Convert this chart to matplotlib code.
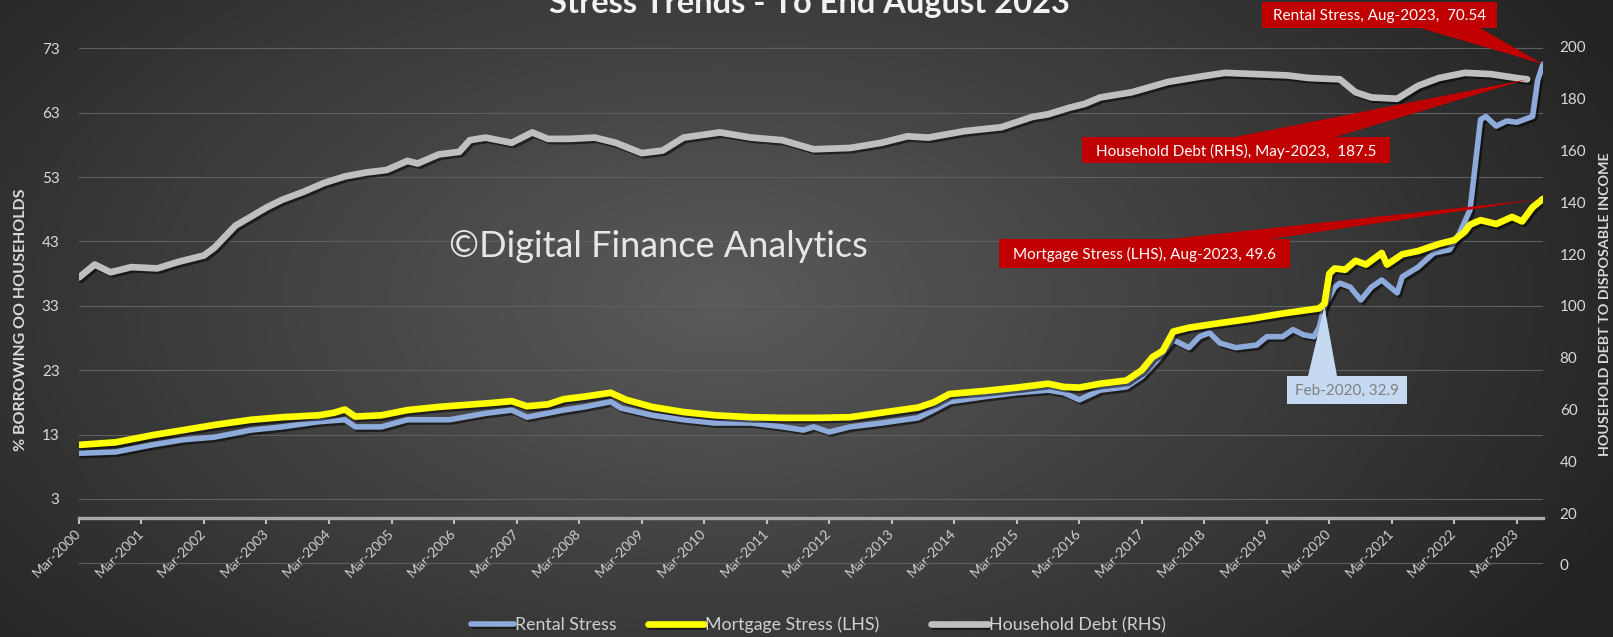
import numpy as np
import pandas as pd
import matplotlib
matplotlib.use("Agg")
import matplotlib.pyplot as plt
import matplotlib.dates as mdates
import matplotlib.patheffects as pe
from matplotlib.patches import Polygon, Rectangle
from matplotlib.lines import Line2D

# ---------------- data ----------------
household_dates = ['2000-03','2000-06','2000-09','2001-01','2001-06','2001-10','2002-03','2002-05','2002-09','2002-12',
                   '2003-03','2003-06','2003-10','2004-02','2004-06','2004-10','2005-02','2005-06','2005-08','2005-12',
                   '2006-04','2006-06','2006-09','2007-02','2007-06','2007-09','2008-01','2008-06','2008-10','2009-03',
                   '2009-07','2009-11','2010-06','2010-12','2011-06','2011-12','2012-07','2013-01','2013-06','2013-10',
                   '2014-05','2014-12','2015-06','2015-09','2016-01','2016-04','2016-07','2017-01','2017-08','2018-02',
                   '2018-07','2019-01','2019-07','2019-11','2020-05','2020-08','2020-11','2021-04','2021-06','2021-08',
                   '2021-12','2022-05','2022-10','2023-03','2023-05']
household_values = [111, 116, 113, 115, 114.5, 117, 119.5, 122.5, 131, 134.5,
                    138, 141, 144, 147.5, 150, 151.5, 152.5, 156, 155, 158.5,
                    159.5, 164, 165, 163, 167, 164.5, 164.5, 165, 163, 159,
                    160, 165, 167, 165, 164, 160.5, 161, 163, 165.5, 165,
                    167.5, 169, 173, 174, 176.5, 178, 180.5, 182.5, 186.5, 188.5,
                    190, 189.5, 189, 188, 187.5, 182.5, 180.5, 180, 182.5, 185,
                    188, 190, 189.5, 188, 187.5]

mortgage_dates = ['2000-03','2000-10','2001-05','2001-11','2002-05','2002-12','2003-06','2004-01','2004-04','2004-06',
                  '2004-08','2005-01','2005-06','2005-12','2006-05','2006-10','2007-02','2007-05','2007-09','2007-12',
                  '2008-04','2008-09','2008-12','2009-05','2009-11','2010-05','2010-12','2011-06','2012-01','2012-07',
                  '2013-01','2013-08','2013-11','2014-02','2014-09','2015-03','2015-09','2015-12','2016-03','2016-07',
                  '2016-12','2017-03','2017-05','2017-07','2017-09','2017-12','2018-05','2018-12','2019-06','2020-01',
                  '2020-02','2020-03','2020-04','2020-06','2020-08','2020-10','2021-01','2021-02','2021-05','2021-08',
                  '2021-12','2022-03','2022-05','2022-06','2022-08','2022-11','2023-02','2023-04','2023-06','2023-08']
mortgage_values = [11.4, 11.8, 12.9, 13.7, 14.5, 15.3, 15.7, 16.0, 16.4, 16.9,
                   15.8, 16.0, 16.8, 17.3, 17.6, 17.9, 18.2, 17.4, 17.7, 18.5,
                   18.9, 19.5, 18.4, 17.3, 16.5, 16.0, 15.7, 15.6, 15.6, 15.7,
                   16.4, 17.2, 18.0, 19.3, 19.8, 20.3, 20.9, 20.4, 20.3, 20.9,
                   21.4, 23.0, 25.0, 26.0, 29.0, 29.6, 30.2, 31.0, 31.8, 32.6,
                   33.3, 38.0, 38.8, 38.6, 40.0, 39.4, 41.2, 39.4, 41.0, 41.5,
                   42.6, 43.2, 44.5, 45.6, 46.3, 45.7, 46.8, 46.1, 48.3, 49.6]

rental_dates = ['2000-03','2000-10','2001-05','2001-11','2002-05','2002-12','2003-06','2004-01','2004-06','2004-08',
                '2005-01','2005-06','2006-02','2006-09','2007-02','2007-05','2007-12','2008-04','2008-09','2008-11',
                '2009-05','2009-11','2010-05','2010-12','2011-06','2011-10','2011-12','2012-03','2012-07','2013-01',
                '2013-08','2013-11','2014-02','2014-09','2015-03','2015-09','2015-12','2016-03','2016-07','2016-12',
                '2017-03','2017-06','2017-09','2017-12','2018-02','2018-04','2018-06','2018-09','2019-01','2019-03',
                '2019-06','2019-08','2019-10','2019-12','2020-01','2020-02','2020-04','2020-05','2020-07','2020-09',
                '2020-11','2021-01','2021-04','2021-05','2021-08','2021-11','2022-02','2022-04','2022-06','2022-08',
                '2022-09','2022-11','2023-01','2023-03','2023-06','2023-07','2023-08']
rental_values = [10.1, 10.3, 11.4, 12.2, 12.6, 13.7, 14.2, 15.0, 15.3, 14.2,
                 14.2, 15.3, 15.3, 16.3, 16.8, 15.7, 16.8, 17.3, 18.1, 17.1,
                 16.0, 15.3, 14.8, 14.8, 14.2, 13.7, 14.2, 13.4, 14.2, 14.8,
                 15.6, 16.8, 18.1, 18.9, 19.5, 19.9, 19.5, 18.4, 19.9, 20.4,
                 22.0, 24.6, 27.7, 26.5, 28.2, 28.8, 27.2, 26.5, 26.9, 28.2,
                 28.2, 29.3, 28.5, 28.2, 29.6, 32.9, 35.9, 36.5, 35.9, 33.9,
                 35.9, 37.0, 35.0, 37.5, 39.0, 41.2, 41.7, 44.3, 47.9, 61.9,
                 62.4, 60.9, 61.7, 61.5, 62.4, 68.0, 70.54]

series_names = ['Rental Stress', 'Mortgage Stress (LHS)', 'Household Debt (RHS)']
series_colors = ['#8eaadb', '#ffff00', '#bfbfbf']
left_ticks = [-7, 3, 13, 23, 33, 43, 53, 63, 73]
left_labels = ['', '3', '13', '23', '33', '43', '53', '63', '73']
right_ticks = [0, 20, 40, 60, 80, 100, 120, 140, 160, 180, 200]
xtick_years = list(range(2000, 2024))
xtick_labels = ['Mar-%d' % y for y in xtick_years]

title_text = 'Stress Trends - To End August 2023'
left_label = '% BORROWING OO HOUSEHOLDS'
right_label = 'HOUSEHOLD DEBT TO DISPOSABLE INCOME'
watermark = '\u00a9Digital Finance Analytics'

rental_callout = ('Rental Stress, Aug-2023,  70.54', '2023-08', 70.54)
household_callout = ('Household Debt (RHS), May-2023,  187.5', '2023-05', 187.5)
mortgage_callout = ('Mortgage Stress (LHS), Aug-2023, 49.6', '2023-08', 49.6)
feb_callout = ('Feb-2020, 32.9', '2020-02', 32.9)

# ---------------- figure ----------------
W, H = 1613, 637
DPI = 100
plt.rcParams['font.family'] = ['Lato', 'DejaVu Sans']

fig = plt.figure(figsize=(W / DPI, H / DPI), dpi=DPI)
fig.patch.set_facecolor('#2b2b2b')

# radial gradient background
bg = fig.add_axes([0, 0, 1, 1], zorder=-10)
yy, xx = np.mgrid[0:H, 0:W]
d = np.sqrt(((xx - 720) / 980.0) ** 2 + ((yy - 300) / 560.0) ** 2)
g = 0.355 - 0.215 * np.clip(d, 0, 1)
bg.imshow(np.dstack([g, g, g]), extent=[0, W, H, 0], aspect='auto', interpolation='bilinear')
bg.set_xlim(0, W); bg.set_ylim(H, 0)
bg.axis('off')

ax_left, ax_right, ax_top, ax_bottom = 79, 1543, 20, 565
ax = fig.add_axes([ax_left / W, 1 - ax_bottom / H, (ax_right - ax_left) / W, (ax_bottom - ax_top) / H])
ax.set_facecolor('none')
ax2 = ax.twinx()

ax.set_xlim(pd.Timestamp('2000-03-01'), pd.Timestamp('2023-08-01'))
ax.set_ylim(-7.25, 77.38)
ax2.set_ylim(0, 210.4)

shadow = [pe.SimpleLineShadow(offset=(1.6, -1.6), shadow_color='black', alpha=0.55), pe.Normal()]
widths = [4.0, 4.8, 4.8]

l1, = ax.plot(pd.to_datetime(rental_dates), rental_values, color=series_colors[0], lw=widths[0],
              solid_joinstyle='round', solid_capstyle='round', path_effects=shadow, zorder=3)
l2, = ax.plot(pd.to_datetime(mortgage_dates), mortgage_values, color=series_colors[1], lw=widths[1],
              solid_joinstyle='round', solid_capstyle='round', path_effects=shadow, zorder=4)
l3, = ax2.plot(pd.to_datetime(household_dates), household_values, color=series_colors[2], lw=widths[2],
               solid_joinstyle='round', solid_capstyle='round', path_effects=shadow, zorder=3)

# axes styling
for sp in ['top', 'left', 'right']:
    ax.spines[sp].set_visible(False)
for sp in ax2.spines.values():
    sp.set_visible(False)
ax.spines['bottom'].set_position(('data', 0))
ax.spines['bottom'].set_color('#a9a9a9')
ax.spines['bottom'].set_linewidth(2.4)

ax.set_yticks(left_ticks)
ax.set_yticklabels(left_labels)
ax.yaxis.grid(True, color='#5f5f5f', lw=0.8)
ax.set_axisbelow(True)
ax.tick_params(axis='y', length=0, pad=14, labelsize=11, labelcolor='#d9d9d9')

ax2.set_yticks(right_ticks)
ax2.tick_params(axis='y', length=0, pad=12, labelsize=11, labelcolor='#d9d9d9')

ax.set_xticks(pd.to_datetime(['%d-03-01' % y for y in xtick_years]))
ax.set_xticklabels(xtick_labels, rotation=45, ha='right', va='center',
                   rotation_mode='anchor', fontsize=10, color='#d0d0d0')
ax.tick_params(axis='x', direction='out', length=4, width=1.5, color='#bfbfbf', pad=5)

# overlay for callouts / texts (pixel coordinates)
ov = fig.add_axes([0, 0, 1, 1], zorder=10)
ov.set_xlim(0, W); ov.set_ylim(H, 0)
ov.axis('off')
ov.patch.set_visible(False)

# legend (drawn manually to match the original spacing)
legend_items = [(471, 514), (648, 704), (931, 988)]
for (sx0, sx1), name, col, lw in zip(legend_items, series_names, series_colors, widths):
    ov.add_line(Line2D([sx0, sx1], [624, 624], color=col, lw=lw, solid_capstyle='round', path_effects=shadow))
    ov.text(sx1 + 1, 625, name, ha='left', va='center', fontsize=12.8, color='#d0d0d0')

def to_px(axis, date, val):
    disp = axis.transData.transform((mdates.date2num(pd.Timestamp(date + '-01')), val))
    return ov.transData.inverted().transform(disp)

def callout(text, axis, date, val, box, base, fc, tc):
    x0, y0, x1, y1 = box
    apex = to_px(axis, date, val)
    ov.add_patch(Polygon([base[0], base[1], apex], closed=True, fc=fc, ec='none', zorder=2))
    ov.add_patch(Rectangle((x0, y0), x1 - x0, y1 - y0, fc=fc, ec='none', zorder=3))
    ov.text((x0 + x1) / 2, (y0 + y1) / 2 + 1, text, ha='center', va='center', fontsize=11,
            color=tc, zorder=4)

red = '#c00000'
callout(rental_callout[0], ax, rental_callout[1], rental_callout[2],
        (1262, 2, 1497, 28), ((1420, 28), (1480, 28)), red, 'white')
callout(household_callout[0], ax2, household_callout[1], household_callout[2],
        (1082, 137, 1390, 163), ((1235, 137), (1335, 137)), red, 'white')
callout(mortgage_callout[0], ax, mortgage_callout[1], mortgage_callout[2],
        (999, 239, 1290, 268), ((1170, 239), (1270, 239)), red, 'white')
callout(feb_callout[0], ax, feb_callout[1], feb_callout[2],
        (1287, 376, 1407, 404), ((1308, 376), (1337, 376)), '#c5d9f1', '#7f7f7f')

ov.text(809, 13, title_text, ha='center', va='baseline', fontsize=23.5, fontweight='bold',
        color='#f2f2f2')
ov.text(658, 257, watermark, ha='center', va='baseline', fontsize=26, color='#e6e6e6')
ov.text(21, 320, left_label, rotation=90, ha='center', va='center', fontsize=11.5,
        fontweight='bold', color='#d9d9d9')
ov.text(1605, 304, right_label, rotation=90, ha='center', va='center', fontsize=10.3,
        fontweight='bold', color='#d9d9d9')

fig.savefig('out.png', dpi=DPI, facecolor=fig.get_facecolor())
